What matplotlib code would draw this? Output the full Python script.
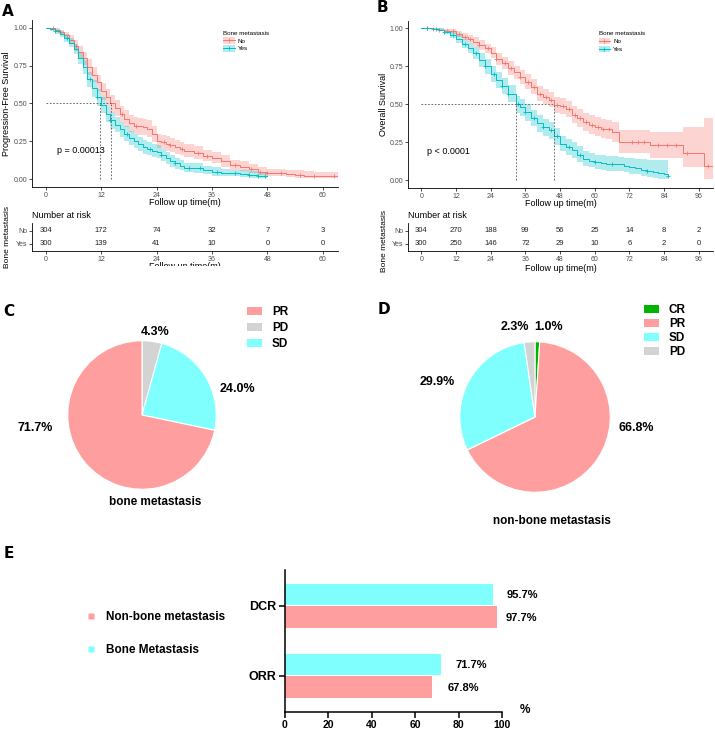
import numpy as np
import matplotlib
matplotlib.use('Agg')
import matplotlib.pyplot as plt
from matplotlib.lines import Line2D
from matplotlib.patches import Patch
from matplotlib.transforms import Bbox, TransformedBbox

plt.rcParams['font.family'] = ['Liberation Sans', 'DejaVu Sans']

W, H = 715, 733
RED = '#F8766D'
TEAL = '#00BFC4'
PINK = '#FF9E9E'
CYAN = '#80FFFF'
GRAY = '#D3D3D3'
GREEN = '#00B400'

# ---- A: progression-free survival ----
pfs_no_t = [0, 1, 2, 3, 4, 5, 6, 7, 8, 9, 10, 11, 12, 13, 14, 15, 16, 17, 18, 19, 20, 21, 22, 23, 24, 25, 26, 27, 28, 29, 30,
            32, 34, 36, 38, 40, 42, 44, 46, 48, 50, 52, 54, 56, 58, 60, 63.3]
pfs_no_s = [1.0, 0.995, 0.985, 0.97, 0.95, 0.92, 0.88, 0.84, 0.80, 0.74, 0.69, 0.64, 0.58, 0.54, 0.50, 0.47, 0.43, 0.40, 0.37, 0.355,
            0.35, 0.345, 0.335, 0.30, 0.25, 0.245, 0.235, 0.225, 0.215, 0.20, 0.19, 0.175, 0.155, 0.14, 0.12, 0.095, 0.085, 0.07, 0.05, 0.04,
            0.04, 0.035, 0.03, 0.025, 0.02, 0.02, 0.02]
pfs_no_hi = [1.0, 1.0, 0.995, 0.985, 0.97, 0.95, 0.915, 0.88, 0.84, 0.79, 0.74, 0.69, 0.635, 0.595, 0.555, 0.525, 0.485, 0.455, 0.425, 0.41,
             0.405, 0.40, 0.39, 0.355, 0.30, 0.295, 0.285, 0.275, 0.26, 0.245, 0.235, 0.22, 0.195, 0.18, 0.16, 0.13, 0.12, 0.10, 0.08, 0.07,
             0.07, 0.065, 0.06, 0.055, 0.05, 0.05, 0.05]
pfs_no_lo = [1.0, 0.985, 0.97, 0.95, 0.925, 0.89, 0.845, 0.80, 0.755, 0.69, 0.64, 0.585, 0.525, 0.485, 0.445, 0.415, 0.375, 0.345, 0.315, 0.30,
             0.295, 0.29, 0.28, 0.245, 0.205, 0.20, 0.19, 0.18, 0.17, 0.16, 0.15, 0.135, 0.12, 0.105, 0.085, 0.065, 0.055, 0.045, 0.03, 0.02,
             0.02, 0.015, 0.01, 0.01, 0.008, 0.008, 0.008]
pfs_yes_t = [0, 1, 2, 3, 4, 5, 6, 7, 8, 9, 10, 11, 12, 13, 14, 15, 16, 17, 18, 19, 20, 21, 22, 23, 24, 25, 26, 27, 28, 29, 30,
             32, 34, 36, 38, 40, 42, 44, 46, 48]
pfs_yes_s = [1.0, 0.99, 0.975, 0.96, 0.93, 0.90, 0.86, 0.80, 0.74, 0.66, 0.60, 0.54, 0.49, 0.43, 0.39, 0.36, 0.33, 0.30, 0.27, 0.25,
             0.23, 0.215, 0.20, 0.19, 0.18, 0.16, 0.14, 0.12, 0.105, 0.09, 0.077, 0.073, 0.06, 0.05, 0.045, 0.04, 0.035, 0.03, 0.025, 0.025]
pfs_yes_hi = [1.0, 1.0, 0.99, 0.98, 0.955, 0.93, 0.895, 0.84, 0.785, 0.71, 0.655, 0.595, 0.545, 0.485, 0.445, 0.41, 0.38, 0.35, 0.32, 0.30,
              0.28, 0.26, 0.245, 0.235, 0.225, 0.20, 0.18, 0.16, 0.14, 0.125, 0.11, 0.105, 0.09, 0.08, 0.07, 0.065, 0.06, 0.055, 0.05, 0.05]
pfs_yes_lo = [1.0, 0.98, 0.96, 0.94, 0.905, 0.87, 0.825, 0.76, 0.695, 0.61, 0.545, 0.485, 0.435, 0.375, 0.335, 0.31, 0.28, 0.25, 0.225, 0.205,
              0.185, 0.17, 0.16, 0.15, 0.14, 0.12, 0.10, 0.085, 0.07, 0.06, 0.05, 0.045, 0.035, 0.025, 0.02, 0.02, 0.015, 0.01, 0.008, 0.008]
pfs_no_cens = [1.5, 3, 6.5, 8, 16.5, 19.5, 25.5, 27, 29.5, 33, 35, 41, 44.5, 46.5, 48, 51, 55, 58, 62.5]
pfs_yes_cens = [2, 4.5, 9.5, 11, 14, 17.5, 22.5, 25, 28, 31, 33.5, 37, 41, 44, 46, 47.5]
pfs_medians = [11.8, 14.1]
pfs_p = 'p = 0.00013'
pfs_risk_t = [0, 12, 24, 36, 48, 60]
pfs_risk_no = [304, 172, 74, 32, 7, 3]
pfs_risk_yes = [300, 139, 41, 10, 0, 0]

# ---- B: overall survival ----
os_no_t = [0, 2, 4, 6, 8, 10, 12, 14, 16, 18, 20, 22, 24, 26, 28, 30, 32, 34, 36, 38, 40, 42, 44, 46, 48, 50, 52, 54, 56, 58,
           60, 62, 64, 66, 68.3, 79, 90.6, 97.8, 101]
os_no_s = [1.0, 1.0, 0.995, 0.99, 0.985, 0.98, 0.965, 0.945, 0.93, 0.91, 0.89, 0.87, 0.84, 0.80, 0.77, 0.74, 0.71, 0.68, 0.65, 0.615,
           0.57, 0.55, 0.53, 0.495, 0.49, 0.47, 0.43, 0.41, 0.385, 0.365, 0.35, 0.34, 0.335, 0.32, 0.25, 0.23, 0.18, 0.095, 0.095]
os_no_hi = [1.0, 1.0, 1.0, 1.0, 0.995, 0.995, 0.985, 0.97, 0.955, 0.94, 0.92, 0.90, 0.875, 0.84, 0.81, 0.785, 0.755, 0.725, 0.70, 0.665,
            0.62, 0.60, 0.58, 0.55, 0.545, 0.525, 0.49, 0.47, 0.445, 0.43, 0.415, 0.405, 0.40, 0.385, 0.33, 0.32, 0.35, 0.41, 0.41]
os_no_lo = [1.0, 1.0, 0.99, 0.98, 0.975, 0.965, 0.945, 0.92, 0.905, 0.88, 0.86, 0.835, 0.805, 0.76, 0.73, 0.695, 0.665, 0.635, 0.60, 0.565,
            0.52, 0.50, 0.48, 0.445, 0.435, 0.415, 0.375, 0.35, 0.325, 0.305, 0.29, 0.28, 0.27, 0.255, 0.18, 0.15, 0.09, 0.01, 0.01]
os_yes_t = [0, 2, 4, 6, 8, 10, 12, 14, 16, 18, 20, 22, 24, 26, 28, 30, 32.7, 34, 36, 38, 40, 42, 44, 46, 48, 50, 52, 54, 56, 58,
            60, 62, 64, 66, 68, 70, 72, 74, 76, 78, 80, 82, 84, 85.5]
os_yes_s = [1.0, 1.0, 0.995, 0.99, 0.975, 0.955, 0.93, 0.90, 0.87, 0.835, 0.79, 0.75, 0.70, 0.66, 0.62, 0.57, 0.50, 0.48, 0.45, 0.41,
            0.375, 0.35, 0.33, 0.29, 0.24, 0.22, 0.20, 0.17, 0.14, 0.13, 0.12, 0.115, 0.11, 0.11, 0.105, 0.095, 0.088, 0.08, 0.07, 0.06,
            0.055, 0.05, 0.045, 0.03]
os_yes_hi = [1.0, 1.0, 1.0, 1.0, 0.99, 0.975, 0.955, 0.93, 0.905, 0.875, 0.835, 0.80, 0.75, 0.715, 0.675, 0.625, 0.555, 0.535, 0.505, 0.465,
             0.43, 0.405, 0.385, 0.345, 0.295, 0.275, 0.255, 0.225, 0.19, 0.18, 0.17, 0.165, 0.16, 0.16, 0.155, 0.15, 0.145, 0.14, 0.14, 0.135,
             0.135, 0.135, 0.135, 0.135]
os_yes_lo = [1.0, 1.0, 0.99, 0.98, 0.96, 0.935, 0.905, 0.87, 0.835, 0.795, 0.745, 0.70, 0.65, 0.605, 0.565, 0.515, 0.445, 0.425, 0.39, 0.355,
             0.32, 0.295, 0.275, 0.235, 0.19, 0.17, 0.15, 0.12, 0.095, 0.085, 0.075, 0.07, 0.065, 0.065, 0.06, 0.055, 0.045, 0.04, 0.03, 0.02,
             0.015, 0.01, 0.01, 0.005]
os_no_cens = [2, 4, 6, 9, 11, 13, 15, 17, 20, 23, 26, 29, 31, 34, 37, 39, 41, 43, 45, 47, 49, 51, 53, 55, 57, 59, 61, 63, 65,
              73, 75, 77, 82, 85, 88, 92, 99]
os_yes_cens = [2, 5, 8, 11, 15, 19, 22, 25, 28, 30, 33.5, 36, 39, 42, 45, 47, 51, 55, 60, 66, 78, 85.5]
os_medians = [32.7, 45.9]
os_p = 'p < 0.0001'
os_risk_t = [0, 12, 24, 36, 48, 60, 72, 84, 96]
os_risk_no = [304, 270, 188, 99, 56, 25, 14, 8, 2]
os_risk_yes = [300, 250, 146, 72, 29, 10, 6, 2, 0]

# ---- C / D: best response ----
bone_resp = ['PD', 'SD', 'PR']
bone_pct = [4.3, 24.0, 71.7]
bone_legend = ['PR', 'PD', 'SD']
nonbone_resp = ['CR', 'PR', 'SD', 'PD']
nonbone_pct = [1.0, 66.8, 29.9, 2.3]
resp_colors = {'CR': GREEN, 'PR': PINK, 'SD': CYAN, 'PD': GRAY}

# ---- E: ORR / DCR ----
rate_names = ['ORR', 'DCR']
rate_bone = [71.7, 95.7]
rate_nonbone = [67.8, 97.7]


def box(left, top, right, bottom):
    return [left / W, 1 - bottom / H, (right - left) / W, (bottom - top) / H]


fig = plt.figure(figsize=(W / 100, H / 100), dpi=100)


def ftext(x, y, s, **kw):
    return fig.text(x / W, 1 - y / H, s, **kw)


def step_at(t, s, x):
    return s[np.searchsorted(t, x, side='right') - 1]


def km_panel(rect, xlim, xticks, groups, medians, ptext, px, ylabel, ylab_x):
    ax = fig.add_axes(rect)
    for t, s, lo, hi, cens, col in groups:
        t = np.array(t)
        s = np.array(s)
        ax.fill_between(t, lo, hi, step='post', color=col, alpha=0.3, lw=0)
        ax.step(t, s, where='post', color=col, lw=0.7)
        ax.plot(cens, step_at(t, s, np.array(cens)), '+', color=col, ms=3, mew=0.6, ls='none')
    ax.plot([0, max(medians)], [0.5, 0.5], color='#555555', lw=0.6, ls=(0, (2, 2)))
    for m in medians:
        ax.plot([m, m], [0, 0.5], color='#555555', lw=0.6, ls=(0, (2, 2)))
    ax.text(px, 0.19, ptext, fontsize=6.5, va='center')
    ax.set_xlim(xlim)
    ax.set_ylim(-0.05, 1.05)
    ax.set_xticks(xticks)
    ax.set_yticks([0, 0.25, 0.5, 0.75, 1.0])
    ax.set_yticklabels(['0.00', '0.25', '0.50', '0.75', '1.00'])
    for sp in ['top', 'right']:
        ax.spines[sp].set_visible(False)
    for sp in ['left', 'bottom']:
        ax.spines[sp].set_linewidth(0.6)
    ax.tick_params(labelsize=5, length=2, width=0.5, labelcolor='#4d4d4d', pad=1.5)
    ax.set_xlabel('Follow up time(m)', fontsize=6.5)
    ax.xaxis.set_label_coords(0.5, -0.065)
    ax.set_ylabel(ylabel, fontsize=6.5)
    ax.yaxis.set_label_coords(ylab_x, 0.5)
    handles = [(Patch(facecolor=RED, alpha=0.3, lw=0), Line2D([], [], color=RED, lw=0.7, marker='+', ms=3, mew=0.6)),
               (Patch(facecolor=TEAL, alpha=0.3, lw=0), Line2D([], [], color=TEAL, lw=0.7, marker='+', ms=3, mew=0.6))]
    leg = ax.legend(handles, ['No', 'Yes'], title='Bone metastasis', loc='upper left',
                    bbox_to_anchor=(0.615, 0.955), frameon=False, fontsize=4.5, title_fontsize=4.5,
                    handlelength=1.8, handleheight=1.2, labelspacing=0.25, borderpad=0, handletextpad=0.5)
    leg._legend_box.align = 'left'
    return ax


def risk_panel(rect, xlim, times, n_no, n_yes, cut=None):
    ax = fig.add_axes(rect)
    for x, a, b in zip(times, n_no, n_yes):
        ax.text(x, 2, str(a), ha='center', va='center', fontsize=5.5, color='#222222')
        ax.text(x, 1, str(b), ha='center', va='center', fontsize=5.5, color='#222222')
    ax.set_xlim(xlim)
    ax.set_ylim(0.45, 2.6)
    ax.set_xticks(times)
    ax.set_yticks([1, 2])
    ax.set_yticklabels(['Yes', 'No'])
    ax.get_yticklabels()[0].set_color('#5fd3d6')
    ax.get_yticklabels()[1].set_color('#f4a19b')
    for sp in ['top', 'right']:
        ax.spines[sp].set_visible(False)
    for sp in ['left', 'bottom']:
        ax.spines[sp].set_linewidth(0.6)
    ax.tick_params(labelsize=5, length=2, width=0.5, labelcolor='#4d4d4d', pad=1.5)
    lab = ax.set_xlabel('Follow up time(m)', fontsize=6.5, labelpad=1)
    if cut is not None:
        ax.xaxis.set_label_coords(0.5, -0.40)
        lab.set_clip_box(TransformedBbox(Bbox([[0, 1 - cut / H], [1, 1]]), fig.transFigure))
        lab.set_clip_on(True)
    return ax


pfs_groups = [(pfs_no_t, pfs_no_s, pfs_no_lo, pfs_no_hi, pfs_no_cens, RED),
              (pfs_yes_t, pfs_yes_s, pfs_yes_lo, pfs_yes_hi, pfs_yes_cens, TEAL)]
os_groups = [(os_no_t, os_no_s, os_no_lo, os_no_hi, os_no_cens, RED),
             (os_yes_t, os_yes_s, os_yes_lo, os_yes_hi, os_yes_cens, TEAL)]

km_panel(box(32, 20, 338, 187), (-3, 63.3), pfs_risk_t, pfs_groups, pfs_medians, pfs_p, 2.4,
         'Progression-Free Survival', -0.069)
km_panel(box(408, 20.7, 713, 188), (-4.6, 100.9), os_risk_t, os_groups, os_medians, os_p, 2.1,
         'Overall Survival', -0.066)
risk_panel(box(32, 223, 338, 251), (-3, 63.3), pfs_risk_t, pfs_risk_no, pfs_risk_yes, cut=266)
risk_panel(box(408, 223, 713, 251), (-4.6, 100.9), os_risk_t, os_risk_no, os_risk_yes)

ftext(32, 216, 'Number at risk', fontsize=6.5, va='center')
ftext(408, 216, 'Number at risk', fontsize=6.5, va='center')
ftext(8, 237, 'Bone metastasis', fontsize=6, rotation=90, ha='center', va='center')
ftext(384, 241, 'Bone metastasis', fontsize=6, rotation=90, ha='center', va='center')


def pie_panel(cx, cy, r, names, pcts, legend_order, label_pos, title, title_pos, leg_pos, spacing):
    ax = fig.add_axes(box(cx - r, cy - r, cx + r, cy + r))
    ax.pie(pcts, colors=[resp_colors[n] for n in names], startangle=90, counterclock=False,
           wedgeprops=dict(edgecolor='white', linewidth=0.8))
    ax.set_xlim(-1.01, 1.01)
    ax.set_ylim(-1.01, 1.01)
    for p, (x, y) in zip(pcts, label_pos):
        ftext(x, y, f'{p:.1f}%', fontsize=9, fontweight='bold', ha='center', va='center')
    ftext(title_pos[0], title_pos[1], title, fontsize=8.5, fontweight='bold', ha='center', va='center')
    fig.legend([Patch(facecolor=resp_colors[n]) for n in legend_order], legend_order,
               loc='upper left', bbox_to_anchor=(leg_pos[0] / W, 1 - leg_pos[1] / H), frameon=False,
               prop=dict(size=8.5, weight='bold'), handlelength=1.3, handleheight=0.6, labelspacing=spacing,
               borderpad=0, borderaxespad=0, handletextpad=0.8)
    return ax


pie_panel(142, 415, 75, bone_resp, bone_pct, bone_legend,
          [(155, 332), (237, 389), (35, 428)], 'bone metastasis', (155, 502), (247, 306), 0.35)
pie_panel(535, 417, 76, nonbone_resp, nonbone_pct, nonbone_resp,
          [(549, 327), (636, 428), (437, 382), (515, 327)], 'non-bone metastasis', (552, 521), (644, 304), 0.18)

# ---- E ----
axE = fig.add_axes(box(285, 570, 502, 711.7))
y = np.arange(len(rate_names))
h = 0.31
bars_b = axE.barh(y + h / 2 + 0.005, rate_bone, height=h, color=CYAN, lw=0)
bars_n = axE.barh(y - h / 2 - 0.005, rate_nonbone, height=h, color=PINK, lw=0)
offs_b = [10.5, 10]
offs_n = [11, 6.5]
for bar, v, o in zip(bars_b, rate_bone, offs_b):
    axE.annotate(f'{v}%', (v, bar.get_y() + bar.get_height() / 2), xytext=(o, 0), textcoords='offset points',
                 va='center', fontsize=8, fontweight='bold')
for bar, v, o in zip(bars_n, rate_nonbone, offs_n):
    axE.annotate(f'{v}%', (v, bar.get_y() + bar.get_height() / 2 - 0.02), xytext=(o, 0), textcoords='offset points',
                 va='center', fontsize=8, fontweight='bold')
axE.set_xlim(0, 100)
axE.set_ylim(-0.514, 1.51)
axE.set_yticks(y)
axE.set_yticklabels(rate_names)
axE.set_xticks([0, 20, 40, 60, 80, 100])
for sp in ['top', 'right']:
    axE.spines[sp].set_visible(False)
for sp in ['left', 'bottom']:
    axE.spines[sp].set_linewidth(1.1)
axE.tick_params(length=4, width=1.1, pad=2)
for lab in axE.get_xticklabels():
    lab.set_fontsize(7.5)
    lab.set_fontweight('bold')
for lab in axE.get_yticklabels():
    lab.set_fontsize(9)
    lab.set_fontweight('bold')
ftext(525, 710, '%', fontsize=8.5, fontweight='bold', ha='center', va='center')
fig.legend([Line2D([], [], ls='none', marker='s', ms=5, color=PINK, mec='none'),
            Line2D([], [], ls='none', marker='s', ms=5, color=CYAN, mec='none')],
           ['Non-bone metastasis', 'Bone Metastasis'], loc='center left',
           bbox_to_anchor=(84 / W, 1 - 633.5 / H), frameon=False, borderpad=0, borderaxespad=0,
           handlelength=1.2, handletextpad=0.7, labelspacing=1.75,
           prop=dict(weight='bold', size=8.5))

for letter, x, y in [('A', 2, 12), ('B', 377, 8), ('C', 3, 311), ('D', 378, 309), ('E', 4, 553)]:
    ftext(x, y, letter, fontsize=11, fontweight='heavy', family='DejaVu Sans', va='center')

fig.savefig('out.png', dpi=100)
